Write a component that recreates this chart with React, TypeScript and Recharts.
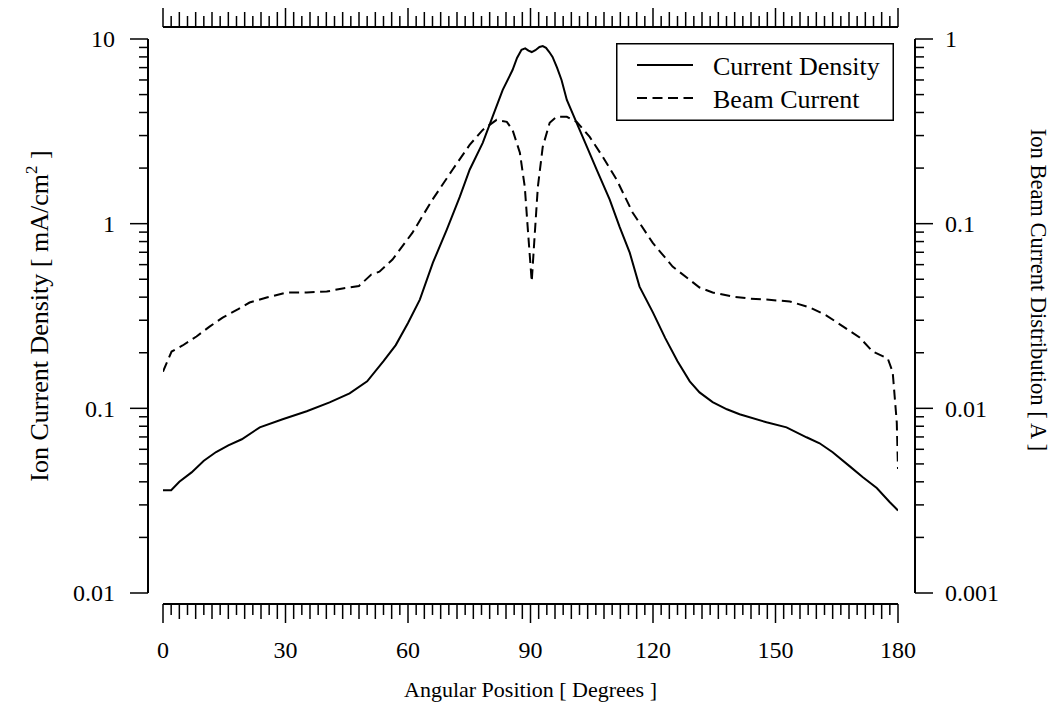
import React from 'react';
import { ComposedChart, Line, XAxis, YAxis, ReferenceLine, Legend } from 'recharts';

// ---------- data ----------
const densityAngles = [0, 2, 4, 7, 10, 13, 16, 19.3, 23.7, 29.3, 35.2, 40.8, 45.7, 50, 54, 57, 60, 62.9, 66.1, 69.5, 72.7, 75.1, 78.3, 80.7, 83.2, 85.6, 86.7, 87.8, 88.7, 89.5, 90.3, 91.2, 92.2, 93, 93.8, 94.6, 95.4, 96.5, 97.6, 98.9, 101.3, 103.8, 106.2, 109.4, 111.8, 114.3, 116.7, 120, 123, 126, 129, 131.4, 134.6, 138.1, 141.2, 147.8, 152.7, 157.6, 160.8, 164, 168.2, 171.4, 174.8, 178, 180];
const densityValues = [0.036, 0.036, 0.04, 0.045, 0.052, 0.058, 0.063, 0.068, 0.0789, 0.0873, 0.0964, 0.1077, 0.1205, 0.14, 0.18, 0.22, 0.29, 0.388, 0.615, 0.928, 1.4, 1.96, 2.74, 3.79, 5.3, 6.79, 7.9, 8.75, 8.9, 8.65, 8.5, 8.7, 9.05, 9.16, 8.95, 8.5, 8.0, 7.0, 6.0, 4.68, 3.51, 2.61, 1.96, 1.35, 0.964, 0.697, 0.456, 0.33, 0.24, 0.18, 0.14, 0.122, 0.108, 0.0988, 0.0929, 0.084, 0.0789, 0.0697, 0.0647, 0.0578, 0.0485, 0.0423, 0.037, 0.031, 0.028];

const beamAngles = [0, 2.1, 4.8, 8.2, 11.4, 14.6, 18.3, 21.2, 25.4, 30.3, 35.2, 40.1, 44, 48, 51, 53, 56.2, 61.1, 66, 70.9, 75.1, 78.3, 81.7, 84.2, 85.6, 87.4, 88.6, 89.3, 90.3, 91, 91.8, 93, 94.7, 96.4, 98.9, 101.3, 104.5, 107.7, 111.1, 115, 119.9, 124.8, 131.4, 134.6, 139.5, 143.7, 147.8, 153.5, 158.4, 162.5, 166.5, 170.6, 173.8, 177.5, 178.7, 179.7, 180];
const beamValues = [0.0158, 0.0203, 0.0219, 0.0245, 0.0277, 0.031, 0.0343, 0.0374, 0.0398, 0.0424, 0.0424, 0.0429, 0.0446, 0.046, 0.053, 0.055, 0.0639, 0.0894, 0.135, 0.196, 0.267, 0.322, 0.365, 0.356, 0.322, 0.242, 0.158, 0.0963, 0.0486, 0.085, 0.158, 0.261, 0.352, 0.379, 0.379, 0.356, 0.295, 0.23, 0.173, 0.115, 0.0789, 0.0586, 0.0451, 0.0424, 0.0403, 0.0393, 0.0388, 0.0379, 0.0352, 0.0318, 0.0278, 0.0242, 0.0203, 0.0186, 0.0157, 0.0084, 0.0047];

const angleLabelTicks = [0, 30, 60, 90, 120, 150, 180];
const angleMinorStep = 2;
const densityDecades = [0.01, 0.1, 1, 10];
const beamDecades = [0.001, 0.01, 0.1, 1];
const decadeMultipliers = [1, 2, 3, 4, 5, 6, 7, 8, 9];

const seriesNames = { density: 'Current Density', beam: 'Beam Current' };
const legendOrder = [seriesNames.density, seriesNames.beam];
const BEAM_DASH = '10 5.5';
const axisTitles = {
  x: 'Angular Position [ Degrees ]',
  left: ['Ion Current Density [ mA/cm', '2', ' ]'],
  right: 'Ion Beam Current Distribution [ A ]',
};

// ---------- derived ----------
const densityData = densityAngles.map((a, i) => ({ angle: a, density: densityValues[i] }));
const beamData = beamAngles.map((a, i) => ({ angle: a, beam: beamValues[i] }));

const angleTicks: number[] = [];
for (let a = 0; a <= 180; a += angleMinorStep) angleTicks.push(a);

const logTicks = (decades: number[]) => {
  const out: number[] = [];
  decades.forEach((d, i) => {
    if (i === decades.length - 1) { out.push(d); return; }
    decadeMultipliers.forEach((m) => out.push(Number((d * m).toPrecision(3))));
  });
  return out;
};
const densityTicks = logTicks(densityDecades);
const beamTicks = logTicks(beamDecades);

const FONT = '"Liberation Serif", "Times New Roman", Times, serif';
const isDecade = (v: number) => Math.abs(Math.log10(v) - Math.round(Math.log10(v))) < 1e-6;

// ---------- tick renderers ----------
const X_GAP_BOTTOM = 11;
const X_GAP_TOP = 12;
const Y_GAP_LEFT = 15;
const Y_GAP_RIGHT = 17;

const xTickLen = (v: number) => (v % 30 === 0 ? 19 : v % 4 === 0 ? 15 : 11);

function BottomTick(props: any) {
  const { x, y, payload } = props;
  const v = payload.value;
  const y0 = y + X_GAP_BOTTOM;
  return (
    <g>
      <line x1={x} x2={x} y1={y0} y2={y0 + xTickLen(v)} stroke="#000" strokeWidth={1.5} />
      {angleLabelTicks.includes(v) && (
        <text x={x} y={y0 + 54} textAnchor="middle" fontSize={24} fontFamily={FONT} fill="#000">{v}</text>
      )}
    </g>
  );
}

function TopTick(props: any) {
  const { x, y, payload } = props;
  const v = payload.value;
  const y0 = y - X_GAP_TOP;
  return <line x1={x} x2={x} y1={y0} y2={y0 - xTickLen(v)} stroke="#000" strokeWidth={1.5} />;
}

function LeftTick(props: any) {
  const { x, y, payload } = props;
  const v = payload.value;
  const major = isDecade(v);
  const x0 = x - Y_GAP_LEFT;
  return (
    <g>
      <line x1={x0} x2={x0 - (major ? 18 : 9)} y1={y} y2={y} stroke="#000" strokeWidth={1.5} />
      {major && (
        <text x={x0 - 33} y={y} dy="0.35em" textAnchor="end" fontSize={24} fontFamily={FONT} fill="#000">{String(v)}</text>
      )}
    </g>
  );
}

function RightTick(props: any) {
  const { x, y, payload } = props;
  const v = payload.value;
  const major = isDecade(v);
  const x0 = x + Y_GAP_RIGHT;
  return (
    <g>
      <line x1={x0} x2={x0 + (major ? 18 : 9)} y1={y} y2={y} stroke="#000" strokeWidth={1.5} />
      {major && (
        <text x={x0 + 30} y={y} dy="0.35em" textAnchor="start" fontSize={24} fontFamily={FONT} fill="#000">{String(v)}</text>
      )}
    </g>
  );
}

// ---------- axis lines + titles (drawn from reference-line endpoints) ----------
const leftAxisShape = (p: any) => {
  const X = p.x1 - Y_GAP_LEFT;
  const tx = X - 100;
  const ty = (p.y1 + p.y2) / 2;
  return (
    <g>
      <line x1={X} x2={X} y1={p.y1} y2={p.y2} stroke="#000" strokeWidth={2} />
      <text x={tx} y={ty} transform={`rotate(-90, ${tx}, ${ty})`} textAnchor="middle" fontSize={26} fontFamily={FONT} fill="#000">
        {axisTitles.left[0]}
        <tspan dy={-11} fontSize={17}>{axisTitles.left[1]}</tspan>
        <tspan dy={11}>{axisTitles.left[2]}</tspan>
      </text>
    </g>
  );
};
const rightAxisShape = (p: any) => {
  const X = p.x1 + Y_GAP_RIGHT;
  const tx = X + 116;
  const ty = (p.y1 + p.y2) / 2 - 26;
  return (
    <g>
      <line x1={X} x2={X} y1={p.y1} y2={p.y2} stroke="#000" strokeWidth={2} />
      <text x={tx} y={ty} transform={`rotate(90, ${tx}, ${ty})`} textAnchor="middle" fontSize={22.5} fontFamily={FONT} fill="#000">
        {axisTitles.right}
      </text>
    </g>
  );
};
const bottomAxisShape = (p: any) => {
  const Y = p.y1 + X_GAP_BOTTOM;
  return (
    <g>
      <line x1={p.x1} x2={p.x2} y1={Y} y2={Y} stroke="#000" strokeWidth={2} />
      <text x={(p.x1 + p.x2) / 2} y={Y + 93} textAnchor="middle" fontSize={22} fontFamily={FONT} fill="#000">{axisTitles.x}</text>
    </g>
  );
};
const topAxisShape = (p: any) => {
  const Y = p.y1 - X_GAP_TOP;
  return <line x1={p.x1} x2={p.x2} y1={Y} y2={Y} stroke="#000" strokeWidth={2} />;
};

// ---------- legend ----------
function LegendBox(props: any) {
  const payload = [...(props.payload || [])].sort(
    (a: any, b: any) => legendOrder.indexOf(a.value) - legendOrder.indexOf(b.value)
  );
  return (
    <svg width={278} height={78} style={{ display: 'block', overflow: 'visible' }}>
      <rect x={0.75} y={0.75} width={276.5} height={76.5} fill="#fff" stroke="#000" strokeWidth={1.5} />
      {payload.map((e: any, i: number) => {
        const cy = 22 + i * 33;
        const dash = e.value === seriesNames.beam ? BEAM_DASH : undefined;
        return (
          <g key={i}>
            <line x1={21} x2={77} y1={cy} y2={cy} stroke="#000" strokeWidth={2} strokeDasharray={dash} />
            <text x={97} y={cy + 9.5} fontSize={26} fontFamily={FONT} fill="#000">{e.value}</text>
          </g>
        );
      })}
    </svg>
  );
}

export default function App() {
  return (
    <div style={{ position: 'absolute', left: 0, top: 0, width: 1057, height: 706, background: '#fff' }}>
      <ComposedChart width={1057} height={706} margin={{ top: 0, right: 0, bottom: 0, left: 0 }}>
        <XAxis xAxisId="bottom" type="number" dataKey="angle" domain={[0, 180]} allowDataOverflow ticks={angleTicks} interval={0}
          tickSize={0} tickMargin={0} axisLine={false} tickLine={false} tick={<BottomTick />} height={113} />
        <XAxis xAxisId="top" orientation="top" type="number" dataKey="angle" domain={[0, 180]} allowDataOverflow ticks={angleTicks} interval={0}
          tickSize={0} tickMargin={0} axisLine={false} tickLine={false} tick={<TopTick />} height={39} />
        <YAxis yAxisId="left" type="number" scale="log" domain={[0.01, 10]} allowDataOverflow ticks={densityTicks} interval={0}
          tickSize={0} tickMargin={0} axisLine={false} tickLine={false} tick={<LeftTick />} width={163} />
        <YAxis yAxisId="right" orientation="right" type="number" scale="log" domain={[0.001, 1]} allowDataOverflow ticks={beamTicks} interval={0}
          tickSize={0} tickMargin={0} axisLine={false} tickLine={false} tick={<RightTick />} width={159} />

        <ReferenceLine xAxisId="bottom" yAxisId="left" ifOverflow="visible" segment={[{ x: 0, y: 0.01 }, { x: 0, y: 10 }]} shape={leftAxisShape} />
        <ReferenceLine xAxisId="bottom" yAxisId="left" ifOverflow="visible" segment={[{ x: 180, y: 0.01 }, { x: 180, y: 10 }]} shape={rightAxisShape} />
        <ReferenceLine xAxisId="bottom" yAxisId="left" ifOverflow="visible" segment={[{ x: 0, y: 0.01 }, { x: 180, y: 0.01 }]} shape={bottomAxisShape} />
        <ReferenceLine xAxisId="bottom" yAxisId="left" ifOverflow="visible" segment={[{ x: 0, y: 10 }, { x: 180, y: 10 }]} shape={topAxisShape} />

        <Line xAxisId="bottom" yAxisId="left" data={densityData} dataKey="density" name={seriesNames.density} type="linear"
          stroke="#000" strokeWidth={2} dot={false} activeDot={false} isAnimationActive={false} />
        <Line xAxisId="bottom" yAxisId="right" data={beamData} dataKey="beam" name={seriesNames.beam} type="linear"
          stroke="#000" strokeWidth={2} strokeDasharray={BEAM_DASH} dot={false} activeDot={false} isAnimationActive={false} />

        <Legend content={<LegendBox />} layout="vertical" align="center" verticalAlign="middle"
          wrapperStyle={{ position: 'absolute', left: 616, top: 43, width: 278, height: 78 }} />
      </ComposedChart>
    </div>
  );
}
